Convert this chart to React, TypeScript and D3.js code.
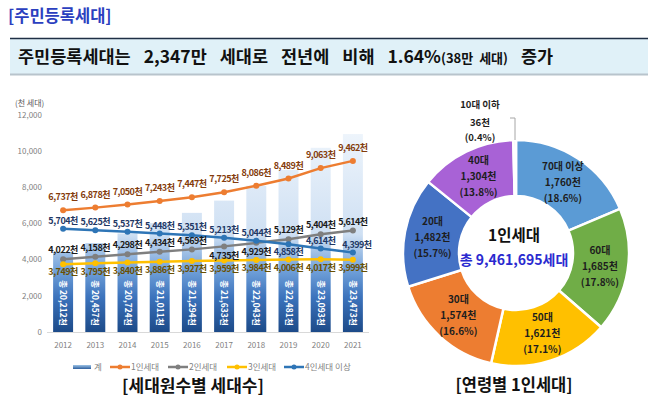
import React from 'react';
import * as d3 from 'd3';

const years = ['2012', '2013', '2014', '2015', '2016', '2017', '2018', '2019', '2020', '2021'];
const totalHouseholds = [20212, 20457, 20724, 21011, 21294, 21633, 22043, 22481, 23093, 23473];
const onePerson = [6737, 6878, 7050, 7243, 7447, 7725, 8086, 8489, 9063, 9462];
const twoPerson = [4022, 4158, 4298, 4434, 4569, 4735, 4929, 5129, 5404, 5614];
const threePerson = [3749, 3795, 3840, 3886, 3927, 3959, 3984, 4006, 4017, 3999];
const fourPlus = [5704, 5625, 5537, 5448, 5351, 5213, 5044, 4858, 4614, 4399];
const yTicks = [0, 2000, 4000, 6000, 8000, 10000, 12000];
const legendLabels = ['계', '1인세대', '2인세대', '3인세대', '4인세대 이상'];

const ageLabels = ['70대 이상', '60대', '50대', '30대', '20대', '40대', '10대 이하'];
const ageValues = [1760, 1685, 1621, 1574, 1482, 1304, 36];
const agePercents = ['18.6%', '17.8%', '17.1%', '16.6%', '15.7%', '13.8%', '0.4%'];

const FONT = "'Noto Sans CJK KR', 'Malgun Gothic', sans-serif";
const fmt = d3.format(',');

export default function App() {
  const x = d3.scaleBand<string>().domain(years).range([47, 369]).paddingInner(0.38).paddingOuter(0.19);
  const y = d3.scaleLinear().domain([0, 12000]).range([332, 115]);
  const yBar = d3.scaleLinear().domain([18000, 24000]).range([332, 115]);
  const cx = (yr: string) => (x(yr) as number) + x.bandwidth() / 2;

  const series = [
    { name: '1인세대', data: onePerson, color: '#ed7d31', text: '#843c0c', side: Array(10).fill('a'), off: 13 },
    { name: '2인세대', data: twoPerson, color: '#7f7f7f', text: '#1a1a1a', side: ['a', 'a', 'a', 'a', 'a', 'b', 'b', 'a', 'a', 'a'], off: 9 },
    { name: '3인세대', data: threePerson, color: '#ffc000', text: '#6b4f00', side: Array(10).fill('b'), off: 8 },
    { name: '4인세대 이상', data: fourPlus, color: '#2e75b6', text: '#1f3864', side: ['a', 'a', 'a', 'a', 'a', 'a', 'a', 'b', 'a', 'a'], off: 8 },
  ];

  const line = d3.line<number>().x((_, i) => cx(years[i])).y((d) => y(d));

  // Donut
  const dcx = 516, dcy = 253, rOut = 113, rIn = 57;
  const pie = d3.pie<number>().sort(null).startAngle(0).endAngle(Math.PI * 2);
  const arcs = pie(ageValues);
  const arc = d3.arc<d3.PieArcDatum<number>>().innerRadius(rIn).outerRadius(rOut);
  const labelArc = d3.arc<d3.PieArcDatum<number>>().innerRadius(85).outerRadius(85);
  const donutColors = ['#5b9bd5', '#70ad47', '#ffc000', '#ed7d31', '#4472c4', '#a862d6', '#d9d9d9'];

  return (
    <svg width={658} height={403} style={{ position: 'absolute', left: 0, top: 0, background: '#fff' }} fontFamily={FONT}>
      <defs>
        <linearGradient id="barGrad" gradientUnits="userSpaceOnUse" x1="0" y1="115" x2="0" y2="332">
          <stop offset="0" stopColor="#f3f8fd" />
          <stop offset="0.55" stopColor="#cfe0f3" />
          <stop offset="0.72" stopColor="#6f9fd8" />
          <stop offset="0.84" stopColor="#3c73bc" />
          <stop offset="1" stopColor="#1c4a88" />
        </linearGradient>
        <linearGradient id="legGrad" x1="0" y1="0" x2="0" y2="1">
          <stop offset="0" stopColor="#9dc3e6" />
          <stop offset="1" stopColor="#2e5f9e" />
        </linearGradient>
      </defs>

      {/* Title */}
      <text x={8} y={22} fontSize={16.5} fontWeight="bold" fill="#2b3fbf">[주민등록세대]</text>

      {/* Subtitle box */}
      <rect x={10} y={38} width={638} height={36} fill="#e0f1f8" />
      <line x1={10} x2={648} y1={38.5} y2={38.5} stroke="#1f2f45" strokeWidth={1.5} />
      <line x1={10} x2={648} y1={74.5} y2={74.5} stroke="#b8c4cc" strokeWidth={2} />
      <text x={18} y={62.5} fontSize={17.5} fontWeight="bold" fill="#111" style={{ whiteSpace: 'pre' }} wordSpacing={9}>
        주민등록세대는 2,347만 세대로 전년에 비해 1.64%<tspan fontSize={13} wordSpacing={3}>(38만 세대)</tspan> 증가
      </text>

      {/* Left chart */}
      <text x={15} y={106} fontSize={8} fill="#595959">(천 세대)</text>
      {yTicks.map((t) => (
        <text key={t} x={42} y={y(t)} dy="0.35em" textAnchor="end" fontSize={8} fill="#7f7f7f">{fmt(t)}</text>
      ))}

      {years.map((yr, i) => (
        <rect key={yr} x={x(yr)} y={yBar(totalHouseholds[i])} width={x.bandwidth()} height={332 - yBar(totalHouseholds[i])} fill="url(#barGrad)" />
      ))}
      <line x1={47} x2={369} y1={332.5} y2={332.5} stroke="#d9d9d9" />
      {years.map((yr, i) => (
        <text key={yr} transform={`translate(${cx(yr)},303) rotate(90)`} textAnchor="middle" dy="0.35em" fontSize={8.5} fontWeight="bold" fill="#fff">
          {'총 ' + fmt(totalHouseholds[i]) + '천'}
        </text>
      ))}
      {years.map((yr) => (
        <text key={yr} x={cx(yr)} y={348} textAnchor="middle" fontSize={8} fill="#7f7f7f">{yr}</text>
      ))}

      {series.map((s) => (
        <g key={s.name}>
          <path d={line(s.data) as string} fill="none" stroke={s.color} strokeWidth={2.5} />
          {s.data.map((v, i) => (
            <circle key={i} cx={cx(years[i])} cy={y(v)} r={3} fill={s.color} />
          ))}
        </g>
      ))}
      {series.map((s) => (
        <g key={s.name + 'l'}>
          {s.data.map((v, i) => (
            <text key={i} x={cx(years[i]) + (s.name === '4인세대 이상' && i === 9 ? 4 : 0)} y={y(v) + (s.side[i] === 'a' ? -s.off : s.off)} dy="0.35em" textAnchor="middle" fontSize={9} fontWeight="bold" letterSpacing={-0.5} fill={s.text}>
              {fmt(v) + '천'}
            </text>
          ))}
        </g>
      ))}

      {/* Legend */}
      {(() => {
        const xs = [73, 110, 168, 227, 284];
        const cols = ['url(#legGrad)', '#ed7d31', '#7f7f7f', '#ffc000', '#2e75b6'];
        return legendLabels.map((l, i) => (
          <g key={l}>
            {i === 0 ? (
              <rect x={xs[i]} y={365} width={18} height={4} fill={cols[i]} />
            ) : (
              <g>
                <line x1={xs[i]} x2={xs[i] + 20} y1={367} y2={367} stroke={cols[i]} strokeWidth={2.5} />
                <circle cx={xs[i] + 10} cy={367} r={2.5} fill={cols[i]} />
              </g>
            )}
            <text x={xs[i] + 21} y={367} dy="0.35em" fontSize={8.5} fill="#7f7f7f">{l}</text>
          </g>
        ));
      })()}
      <text x={193} y={392} textAnchor="middle" fontSize={17} fontWeight="bold" fill="#111">[세대원수별 세대수]</text>

      {/* Donut */}
      <g transform={`translate(${dcx},${dcy})`}>
        {arcs.map((a, i) => (
          <path key={i} d={arc(a) as string} fill={donutColors[i]} stroke="#fff" strokeWidth={2.5} />
        ))}
        {arcs.slice(0, 6).map((a, i) => {
          const [lx, ly] = labelArc.centroid(a);
          return (
            <g key={i} fontSize={10} fontWeight="bold" fill="#1e1e1e" textAnchor="middle">
              <text x={lx} y={ly - 16} dy="0.35em">{ageLabels[i]}</text>
              <text x={lx} y={ly} dy="0.35em">{fmt(ageValues[i]) + '천'}</text>
              <text x={lx} y={ly + 16} dy="0.35em">({agePercents[i]})</text>
            </g>
          );
        })}
        <text x={-2} y={-17} dy="0.35em" textAnchor="middle" fontSize={15.5} fontWeight="bold" fill="#111">1인세대</text>
        <text x={-2} y={7} dy="0.35em" textAnchor="middle" fontSize={14} fontWeight="bold" fill="#2a2ad0">총 9,461,695세대</text>
      </g>
      <g fontSize={9.5} fontWeight="bold" fill="#1e1e1e" textAnchor="middle">
        <text x={480} y={105} dy="0.35em">{ageLabels[6]}</text>
        <text x={480} y={123} dy="0.35em">{fmt(ageValues[6]) + '천'}</text>
        <text x={480} y={138} dy="0.35em">({agePercents[6]})</text>
      </g>
      <polyline points="510,118 515,118 515,140" fill="none" stroke="#a6a6a6" strokeWidth={1} />
      <text x={514} y={391} textAnchor="middle" fontSize={16.5} fontWeight="bold" fill="#111">[연령별 1인세대]</text>
    </svg>
  );
}
